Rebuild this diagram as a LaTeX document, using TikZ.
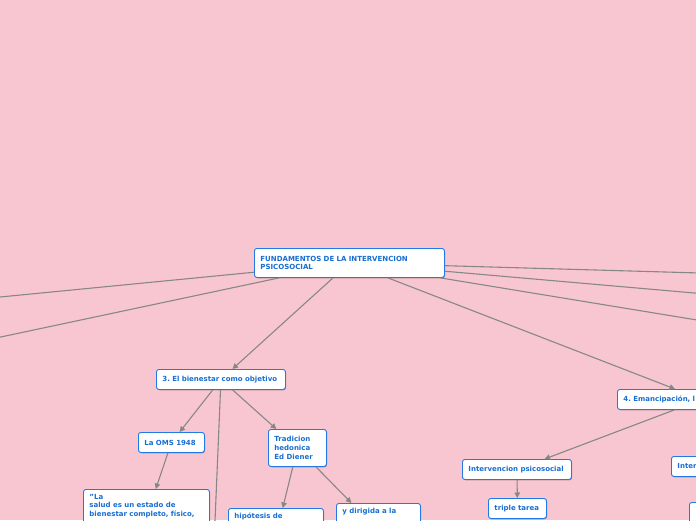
\documentclass[tikz,border=0pt]{standalone}
\usepackage{fontspec}
\setmainfont{DejaVu Sans}
\usetikzlibrary{arrows.meta,shadows}
\definecolor{mapbg}{RGB}{248,198,209}
\definecolor{boxline}{RGB}{33,121,230}
\definecolor{boxtext}{RGB}{24,110,210}
\definecolor{linkgray}{RGB}{135,135,135}
\frenchspacing
\hyphenpenalty=10000

\begin{document}
\begin{tikzpicture}[x=1pt, y=-1pt,
				topicnode/.style={draw=boxline, fill=white, line width=0.9pt, rounded corners=2.5pt, anchor=north west, align=left, inner xsep=6pt, inner ysep=4.5pt, text=boxtext, font=\fontsize{7}{8.8}\selectfont\bfseries, drop shadow={shadow xshift=0.6pt, shadow yshift=-0.8pt, opacity=0.3, fill=black}},
				link/.style={draw=linkgray, line width=1.1pt},
				linkto/.style={link, -{Triangle[length=5.5pt, width=5.5pt]}},
				]

				%Page
				\useasboundingbox (0,0) rectangle (696,520);
				\fill[mapbg] (0,0) rectangle (696,520);
				\clip (0,0) rectangle (696,520);

				%Nodes
				\node[topicnode, text width=178pt, minimum height=29pt]	(root)	at (254,248)	{FUNDAMENTOS DE LA INTERVENCION\\PSICOSOCIAL};
				\node[topicnode, text width=117pt, minimum height=20pt]	(bien)	at (156,369)	{3. El bienestar como objetivo};
				\node[topicnode, text width=54pt, minimum height=20pt]	(oms)	at (138,432)	{La OMS 1948};
				\node[topicnode, text width=46pt, minimum height=37pt]	(trad)	at (268,429)	{Tradicion\\hedonica\\Ed Diener};
				\node[topicnode, text width=114pt, text depth=40pt]	(salud)	at (83,489)	{"La\\salud es un estado de\\bienestar completo, físico,};
				\node[topicnode, text width=83pt, text depth=40pt]	(hipo)	at (228,508)	{hipótesis de};
				\node[topicnode, text width=72pt, text depth=40pt]	(dirig)	at (336,503)	{y dirigida a la};
				\node[topicnode, text width=157pt, minimum height=20pt]	(eman)	at (617,389)	{4. Emancipación, l};
				\node[topicnode, text width=97pt, minimum height=20pt]	(intp)	at (462,459)	{Intervencion psicosocial};
				\node[topicnode, text width=46pt, minimum height=20pt]	(triple)	at (488,498)	{triple tarea};
				\node[topicnode, text width=97pt, minimum height=20pt]	(inter)	at (671,456)	{Inter};
				\node[topicnode, text width=97pt, minimum height=40pt]	(otro)	at (689,502)	{};

				%Off-page ends
				\coordinate (leftA)		at (-4,297.4);
				\coordinate (leftB)		at (-4,338);
				\coordinate (rightA)	at (700,273);
				\coordinate (rightB)	at (700,293.5);
				\coordinate (rightC)	at (700,320.5);
				\coordinate (bienDown)	at (214,545);

				%Lines
				\draw[link]		(root) -- (leftA);
				\draw[link]		(root) -- (leftB);
				\draw[link]		(root) -- (rightA);
				\draw[link]		(root) -- (rightB);
				\draw[link]		(root) -- (rightC);
				\draw[linkto]	(root) -- (bien);
				\draw[linkto]	(root) -- (eman);
				\draw[linkto]	(bien) -- (oms);
				\draw[linkto]	(bien) -- (trad);
				\draw[link]		(bien) -- (bienDown);
				\draw[linkto]	(oms) -- (salud);
				\draw[linkto]	(trad) -- (hipo);
				\draw[linkto]	(trad) -- (dirig);
				\draw[linkto]	(eman) -- (intp);
				\draw[linkto]	(intp) -- (triple);
			\end{tikzpicture}
\end{document}
